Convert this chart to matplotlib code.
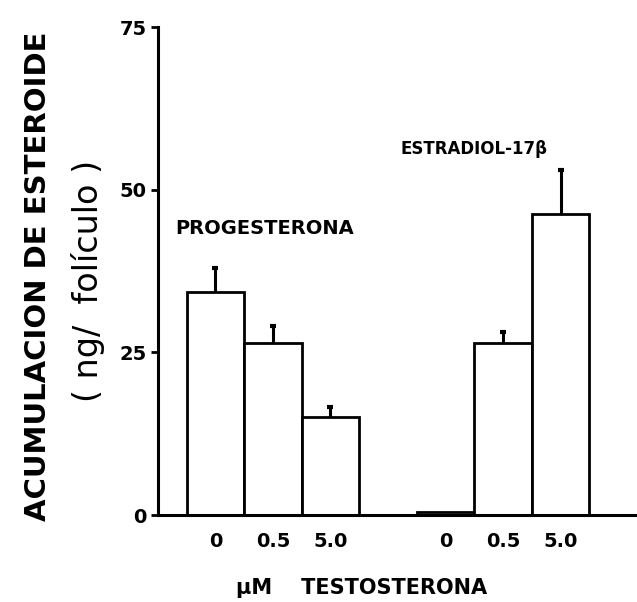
import numpy as np
from matplotlib import pyplot as plt

# steroid accumulation per follicle vs testosterone dose
doses = ["0", "0.5", "5.0"]
progesterona = [34.2, 26.4, 15.0]
progesterona_err = [3.7, 2.6, 1.6]
estradiol = [0.5, 26.4, 46.2]
estradiol_err = [0.0, 1.7, 6.9]

plt.rcParams['font.family'] = 'DejaVu Sans'

fig = plt.figure(figsize=(6.37, 6.02), dpi=100)
ax = fig.add_axes([0.248, 0.1445, 0.752, 0.8106])

pos_p = np.array([1, 2, 3])
pos_e = np.array([5, 6, 7])

for pos, vals, errs in [(pos_p, progesterona, progesterona_err),
                        (pos_e, estradiol, estradiol_err)]:
    vals = np.array(vals)
    errs = np.array(errs)
    ax.bar(pos, vals, width=1.0, color="white", edgecolor="black", linewidth=2.0, zorder=2)
    # upper error only, with a small knob on top
    has_err = errs > 0
    ax.vlines(pos[has_err], vals[has_err], vals[has_err] + errs[has_err],
              color="black", linewidth=2.2, zorder=3)
    ax.plot(pos[has_err], vals[has_err] + errs[has_err], marker="_", markersize=5,
            markeredgewidth=3, color="black", linestyle="none", zorder=3)

ax.set_xlim(0, 8.33)
ax.set_ylim(0, 75)

for s in ["top", "right"]:
    ax.spines[s].set_visible(False)
ax.spines["left"].set_linewidth(2.2)
ax.spines["bottom"].set_linewidth(2.2)

ax.set_yticks([0, 25, 50, 75])
ax.set_yticklabels(["0", "25", "50", "75"], fontsize=14, fontweight="bold")
ax.tick_params(axis="y", direction="out", length=5, width=2, pad=3)
ax.set_xticks(np.concatenate([pos_p, pos_e]))
ax.set_xticklabels(doses + doses, fontsize=14, fontweight="bold")
ax.tick_params(axis="x", length=0, pad=12)

ax.text(0.3, 44, "PROGESTERONA", fontsize=14, fontweight="bold", va="center", ha="left")
ax.text(5.5, 56.3, "ESTRADIOL-17\u03b2", fontsize=12, fontweight="bold", va="center", ha="center")

fig.text(362 / 637, 1 - 588 / 602, "\u03bcM    TESTOSTERONA", fontsize=15, fontweight="bold",
         ha="center", va="center")

fig.text(38 / 637, 1 - 276 / 602, "ACUMULACION DE ESTEROIDE", fontsize=21, fontweight="bold",
         rotation=90, ha="center", va="center")
fig.text(88 / 637, 1 - 281 / 602, "( ng/  folículo )", fontsize=24,
         rotation=90, ha="center", va="center")

fig.savefig("out.png", dpi=100)
plt.close()
